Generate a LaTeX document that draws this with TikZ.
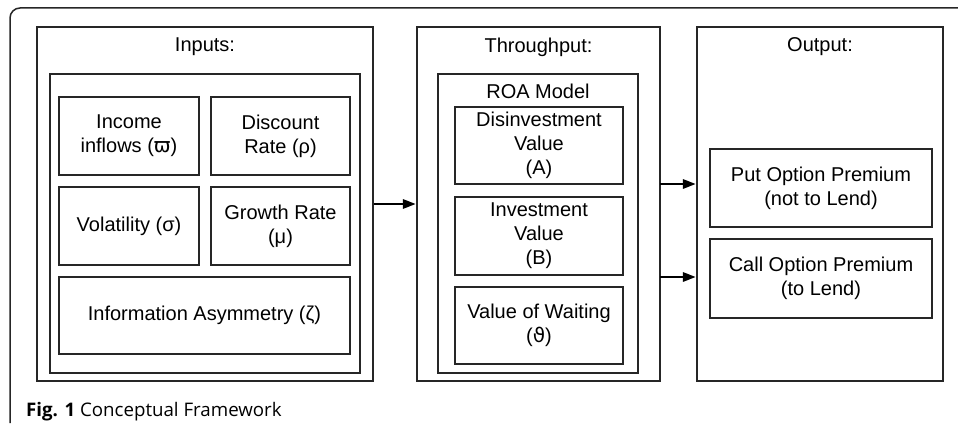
\documentclass[tikz,border=0pt]{standalone}
\usepackage{fontspec}
\setmainfont{Liberation Sans}
\newfontfamily\symfont{DejaVu Sans}
\newfontfamily\capfont{Open Sans}
\usetikzlibrary{arrows.meta}
\tikzset{
  box/.style={draw=black!85, line width=2.1pt, align=center, inner sep=0pt,
    font=\fontsize{20}{24}\selectfont},
  title/.style={font=\fontsize{20}{24}\selectfont, inner sep=0pt},
  conn/.style={line width=2.8pt, -{Triangle[length=13pt,width=9pt]}},
}
\begin{document}
\begin{tikzpicture}[x=1pt,y=-1pt]
\useasboundingbox (0,0) rectangle (958,425);
% outer frame (top and left only)
\draw[line width=1.5pt, rounded corners=10pt, black!85] (10,423) -- (10,8) -- (958,8);
% Inputs
\node[box, minimum width=336pt, minimum height=354pt] (inp) at (205,204) {};
\node[title] (inpt) at (205,47) {Inputs:};
\node[box, minimum width=310pt, minimum height=299pt] (inpin) at (205,223.5) {};
\node[box, minimum width=140pt, minimum height=78pt] (inc) at (129,136) {Income\\inflows ({\symfont ϖ})};
\node[box, minimum width=139pt, minimum height=78pt] (disc) at (280.5,136) {Discount\\Rate (ρ)};
\node[box, minimum width=140pt, minimum height=78pt] (vol) at (129,226) {Volatility (σ)};
\node[box, minimum width=139pt, minimum height=78pt] (gro) at (280.5,226) {Growth Rate\\(μ)};
\node[box, minimum width=291pt, minimum height=77pt] (info) at (204.5,315.5) {Information Asymmetry (ζ)};
% Throughput
\node[box, minimum width=243pt, minimum height=354pt] (thr) at (538.5,204) {};
\node[title] (thrt) at (538.5,47) {Throughput:};
\node[box, minimum width=200pt, minimum height=299pt] (roa) at (538,223.5) {};
\node[title] (roat) at (538,91) {ROA Model};
\node[box, minimum width=168pt, minimum height=77pt] (dis) at (539,145.5) {Disinvestment\\Value\\(A)};
\node[box, minimum width=168pt, minimum height=78pt] (inv) at (539,236) {Investment\\Value\\(B)};
\node[box, minimum width=168pt, minimum height=77pt] (wait) at (539,325.5) {Value of Waiting\\({\symfont ϑ})};
% Output
\node[box, minimum width=246pt, minimum height=354pt] (out) at (820,204) {};
\node[title] (outt) at (820,47) {Output:};
\node[box, minimum width=222pt, minimum height=78pt] (put) at (821,188) {Put Option Premium\\(not to Lend)};
\node[box, minimum width=222pt, minimum height=79pt] (call) at (821,278.5) {Call Option Premium\\(to Lend)};
% connectors
\coordinate (a1) at (660,184);
\coordinate (a2) at (660,277);
\draw[conn] (inp.east) -- (thr.west);
\draw[conn] (a1) -- (a1 -| out.west);
\draw[conn] (a2) -- (a2 -| out.west);
% caption
\node[anchor=base west, inner sep=0pt, font=\capfont\fontsize{18.7}{22}\selectfont] (cap) at (26,416)
  {\textbf{Fig. 1} Conceptual Framework};
\end{tikzpicture}
\end{document}
